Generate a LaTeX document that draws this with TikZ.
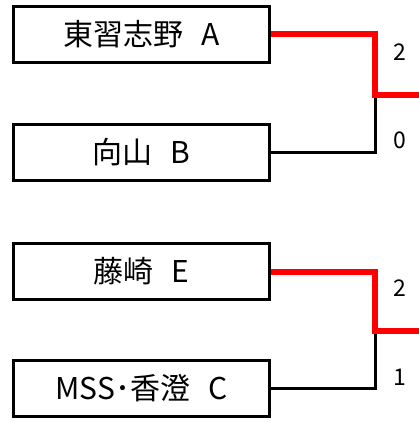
\documentclass[tikz,border=0pt]{standalone}
\usepackage{fontspec}
\setmainfont{Noto Sans CJK JP}
\usepackage{tikz}
\usetikzlibrary{positioning}

\newcommand{\gap}{\hspace{0.6em}}

\begin{document}
\begin{tikzpicture}[
        x=1pt, y=1pt,
        team/.style={draw, rectangle, line width=3pt, minimum width=256pt, minimum height=56pt, inner sep=0pt, font=\fontsize{30}{34}\selectfont},
        lose/.style={line width=3pt, line cap=rect},
        win/.style={line width=6pt, red},
        score/.style={font=\fontsize{23}{27}\selectfont}
    ]
    \useasboundingbox (0,0) rectangle (419,-422);

    % Teams
    \node[team] (higashi) at (141.5,-34.5) {東習志野\gap A};
    \node[team, below=59pt of higashi] (mukai) {向山\gap B};
    \node[team, below=60pt of mukai] (fujisaki) {藤崎\gap E};
    \node[team, below=58pt of fujisaki] (kasumi) {MSS･香澄\gap C};

    % Junctions
    \coordinate (top) at (375,-95);
    \coordinate (topout) at (419,-95);
    \coordinate (bot) at (375,-331);
    \coordinate (botout) at (419,-331);

    % Brackets
    \draw[lose] (mukai.east) -| (top);
    \draw[win] (higashi.east) -| (top) -- (topout);
    \draw[lose] (kasumi.east) -| (bot);
    \draw[win] (fujisaki.east) -| (bot) -- (botout);

    % Scores
    \node[score] (s1) at (400,-52) {2};
    \node[score] (s2) at (400,-140) {0};
    \node[score] (s3) at (400,-288) {2};
    \node[score] (s4) at (400,-377) {1};

\end{tikzpicture}
\end{document}
